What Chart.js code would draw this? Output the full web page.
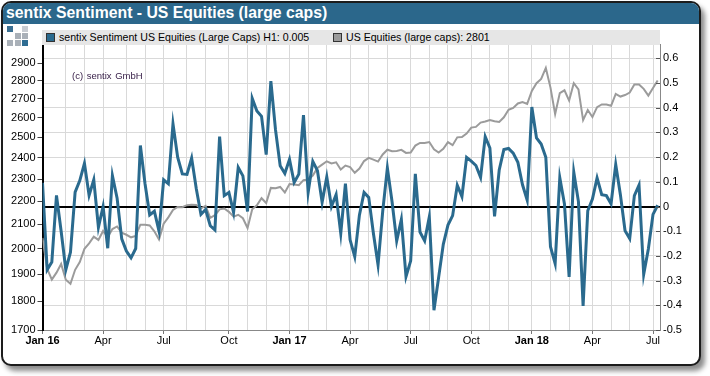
<!DOCTYPE html>
<html lang="en">
<head>
    <meta charset="UTF-8">
    <title>sentix Sentiment - US Equities (large caps)</title>
    <script src="https://cdn.jsdelivr.net/npm/chart.js"></script>
    <style>
        body { margin: 0; width: 710px; height: 376px; overflow: hidden; background: #fff; font-family: "Liberation Sans", Arial, sans-serif; }
        #frame { position: absolute; left: 1px; top: 1px; width: 696px; height: 361px; border: 2px solid #1c1c1c; border-radius: 10px; box-shadow: 4px 5px 5px rgba(0,0,0,0.45); overflow: hidden; background: #fff; }
        #header { height: 21px; background: #2b678b; color: #fff; font-weight: bold; font-size: 15.8px; line-height: 20px; padding-left: 3px; white-space: nowrap; }
        #chart { position: absolute; left: 0; top: 0; z-index: 1; }
        #legend { position: absolute; left: 42px; top: 30px; width: 618px; height: 15px; background: #e6e6e6; z-index: 2; font-size: 10.6px; line-height: 15px; white-space: nowrap; }
        .item { position: absolute; top: 0; }
        .box { display: inline-block; width: 7px; height: 7px; border: 1px solid #333; margin-right: 4px; vertical-align: -1px; }
        #copy { position: absolute; left: 72px; top: 70px; font-size: 9.5px; color: #331a44; z-index: 2; word-spacing: 1px; }
        .sq { position: absolute; width: 6px; height: 6px; z-index: 2; }
    </style>
</head>
<body>
    <div id="frame"><div id="header">sentix Sentiment - US Equities (large caps)</div></div>
    <canvas id="chart" width="710" height="376"></canvas>
    <div id="legend">
        <div class="item" style="left:4px"><span class="box" style="background:#2a6a8e"></span><span id="lg1"></span></div>
        <div class="item" style="left:291px"><span class="box" style="background:#9b9b9b"></span><span id="lg2"></span></div>
    </div>
    <div id="copy">(c) sentix GmbH</div>
    <div id="logo"></div>

    <script>
        // weekly sentix sentiment (right axis), Jan 2016 - Jul 2018
        const sentiment = [
            0.096, -0.256, -0.225, 0.045, -0.10, -0.256, -0.185, 0.058, 0.105, 0.175,
            0.045, 0.108, -0.084, 0.0, -0.169, 0.125, 0.035, -0.131, -0.18, -0.208,
            -0.17, 0.247, 0.092, -0.034, -0.019, -0.10, 0.108, 0.092, 0.335, 0.20,
            0.132, 0.13, 0.196, 0.072, -0.032, -0.012, -0.078, -0.095, 0.283, 0.044,
            0.057, -0.024, 0.158, 0.124, -0.02, 0.438, 0.387, 0.365, 0.21, 0.508,
            0.31, 0.165, 0.134, 0.191, 0.097, 0.131, 0.37, 0.057, 0.183, 0.145,
            0.017, 0.12, 0.0, 0.048, -0.109, 0.093, -0.135, -0.203, -0.035, 0.057,
            0.037, -0.108, -0.236, -0.02, 0.156, 0.02, -0.139, -0.052, -0.284, -0.22,
            0.132, -0.103, -0.139, -0.042, -0.42, -0.287, -0.153, -0.075, -0.037, 0.086,
            0.04, 0.199, 0.184, 0.166, 0.118, 0.283, 0.237, -0.04, 0.148, 0.231,
            0.235, 0.216, 0.179, 0.088, 0.026, 0.403, 0.278, 0.253, 0.199, -0.163,
            -0.231, 0.116, 0.01, -0.285, 0.139, 0.02, -0.403, -0.017, 0.03, 0.116,
            0.048, 0.044, 0.011, 0.17, 0.048, -0.098, -0.13, 0.044, 0.087, -0.275,
            -0.172, -0.032, 0.005
        ];

        // US equities (large caps) index level (left axis, log)
        const usEquities = [
            2043.94, 1922.03, 1880.33, 1906.90, 1940.24, 1880.05, 1864.78, 1917.78, 1948.05, 1999.99,
            2022.19, 2049.58, 2035.94, 2072.78, 2047.60, 2080.73, 2091.58, 2065.30, 2057.14, 2046.61,
            2052.32, 2099.06, 2099.13, 2096.07, 2071.22, 2037.41, 2102.95, 2129.90, 2161.74, 2175.03,
            2173.60, 2182.87, 2184.05, 2183.87, 2169.04, 2179.98, 2127.81, 2139.16, 2164.69, 2168.27,
            2153.74, 2132.98, 2141.16, 2126.41, 2085.18, 2164.45, 2181.90, 2213.35, 2191.95, 2259.53,
            2258.07, 2263.79, 2238.83, 2276.98, 2274.64, 2271.31, 2294.69, 2297.42, 2316.10, 2351.16,
            2367.34, 2383.12, 2372.60, 2378.25, 2343.98, 2362.72, 2355.54, 2328.95, 2348.69, 2384.20,
            2399.29, 2390.90, 2381.73, 2415.82, 2439.07, 2431.77, 2433.15, 2438.30, 2423.41, 2425.18,
            2459.27, 2472.54, 2472.10, 2476.83, 2441.32, 2425.55, 2443.05, 2476.55, 2461.43, 2500.23,
            2502.22, 2519.36, 2549.33, 2553.17, 2575.21, 2581.07, 2587.84, 2582.30, 2578.85, 2602.42,
            2642.22, 2651.50, 2675.81, 2683.34, 2673.61, 2743.15, 2786.24, 2810.30, 2872.87, 2762.13,
            2619.55, 2732.22, 2747.30, 2691.25, 2786.57, 2752.01, 2588.26, 2640.87, 2604.47, 2656.30,
            2670.14, 2669.91, 2663.42, 2727.72, 2712.97, 2721.33, 2734.62, 2779.03, 2779.66, 2754.88,
            2718.37, 2759.82, 2801.31
        ];

        const leftTicks = [1700, 1800, 1900, 2000, 2100, 2200, 2300, 2400, 2500, 2600, 2700, 2800, 2900];
        const rightTicks = [-0.5, -0.4, -0.3, -0.2, -0.1, 0, 0.1, 0.2, 0.3, 0.4, 0.5, 0.6];
        const monthNames = ['Jan', 'Feb', 'Mar', 'Apr', 'May', 'Jun', 'Jul', 'Aug', 'Sep', 'Oct', 'Nov', 'Dec'];

        // one entry per weekly observation (Fridays)
        const firstWeek = Date.UTC(2016, 0, 1);
        const weeks = sentiment.map((_, i) => new Date(firstWeek + i * 7 * 864e5));
        const monthStarts = weeks.map((d, i) => (i === 0 || d.getUTCMonth() !== weeks[i - 1].getUTCMonth()) ? i : -1).filter(i => i >= 0);

        const tickVal = ctx => (ctx && ctx.tick) ? ctx.tick.value : null;
        const isQuarter = i => i !== null && weeks[i] && weeks[i].getUTCMonth() % 3 === 0;
        const isJan = i => i !== null && weeks[i] && weeks[i].getUTCMonth() === 0;
        const isZero = ctx => tickVal(ctx) !== null && Math.abs(tickVal(ctx)) < 1e-9;

        // legend + logo
        document.getElementById('lg1').textContent = 'sentix Sentiment US Equities (Large Caps) H1: ' + sentiment[sentiment.length - 1].toFixed(3);
        document.getElementById('lg2').textContent = 'US Equities (large caps): ' + Math.round(usEquities[usEquities.length - 1]);
        const logo = document.getElementById('logo');
        [[0, 0, '#3a6f92'], [2, 0, '#c8ccd2'], [1, 1, '#a9b0b8'], [2, 1, '#a9b0b8'], [0, 2, '#a9b0b8'], [1, 2, '#a9b0b8'], [2, 2, '#2e6c92']].forEach(([c, r, col]) => {
            const s = document.createElement('div');
            s.className = 'sq';
            s.style.left = (7 + c * 7.5) + 'px';
            s.style.top = (26 + r * 7) + 'px';
            s.style.background = col;
            logo.appendChild(s);
        });

        // short tick marks on the inside of the right axis
        const innerTicks = {
            id: 'innerTicks',
            afterDraw(chart) {
                const s = chart.scales.y2, c = chart.ctx, r = chart.chartArea.right;
                c.save();
                c.strokeStyle = '#555';
                c.lineWidth = 1;
                s.ticks.forEach(t => {
                    const y = Math.round(s.getPixelForValue(t.value)) + 0.5;
                    c.beginPath(); c.moveTo(r - 4, y); c.lineTo(r, y); c.stroke();
                });
                c.restore();
            }
        };

        const tickFont = { family: '"Liberation Sans", Arial, sans-serif', size: 11 };

        new Chart(document.getElementById('chart'), {
            type: 'line',
            data: {
                datasets: [{
                    label: 'sentix Sentiment US Equities (Large Caps)',
                    data: sentiment.map((v, i) => ({ x: i, y: v })),
                    yAxisID: 'y2',
                    borderColor: '#2a6a8e',
                    borderWidth: 3,
                    pointRadius: 0,
                    tension: 0
                }, {
                    label: 'US Equities (large caps)',
                    data: usEquities.map((v, i) => ({ x: i, y: v })),
                    yAxisID: 'y',
                    borderColor: '#9b9b9b',
                    borderWidth: 2,
                    pointRadius: 0,
                    tension: 0
                }]
            },
            options: {
                responsive: false,
                animation: false,
                layout: { padding: { top: 44, left: 0, right: 0, bottom: 0 } },
                plugins: { legend: { display: false }, tooltip: { enabled: false } },
                scales: {
                    x: {
                        type: 'linear',
                        min: 0,
                        max: 132.5,
                        afterBuildTicks: s => { s.ticks = monthStarts.map(v => ({ value: v })); },
                        afterFit: s => { s.height = 46; },
                        border: { color: '#888', width: 1 },
                        grid: {
                            color: '#d9d9d9',
                            lineWidth: 1,
                            tickLength: 4,
                            tickColor: ctx => isQuarter(tickVal(ctx)) ? '#777' : 'rgba(0,0,0,0)'
                        },
                        ticks: {
                            autoSkip: false,
                            maxRotation: 0,
                            padding: 0,
                            color: '#000',
                            font: ctx => ({ ...tickFont, weight: isJan(tickVal(ctx)) ? 'bold' : 'normal' }),
                            callback: v => {
                                const d = weeks[v];
                                if (!d) return '';
                                const m = d.getUTCMonth();
                                if (m % 3) return '';
                                return m === 0 ? monthNames[m] + ' ' + String(d.getUTCFullYear()).slice(2) : monthNames[m];
                            }
                        }
                    },
                    y: {
                        type: 'logarithmic',
                        position: 'left',
                        min: 1700,
                        max: 3014,
                        afterBuildTicks: s => { s.ticks = leftTicks.map(v => ({ value: v })); },
                        afterFit: s => { s.width = 42.5; },
                        border: { color: '#000', width: 2 },
                        grid: { drawOnChartArea: false, tickLength: 5, tickColor: '#444' },
                        ticks: { color: '#000', font: tickFont, padding: 2, callback: v => String(v) }
                    },
                    y2: {
                        type: 'linear',
                        position: 'right',
                        min: -0.5,
                        max: 0.658,
                        afterBuildTicks: s => { s.ticks = rightTicks.map(v => ({ value: v })); },
                        afterFit: s => { s.width = 50; },
                        border: { color: '#888', width: 1 },
                        grid: {
                            drawTicks: false,
                            color: ctx => isZero(ctx) ? '#000' : '#d9d9d9',
                            lineWidth: ctx => isZero(ctx) ? 2 : 1
                        },
                        ticks: { color: '#000', font: tickFont, padding: 3, callback: v => String(v) }
                    }
                }
            },
            plugins: [innerTicks]
        });
    </script>
</body>
</html>
